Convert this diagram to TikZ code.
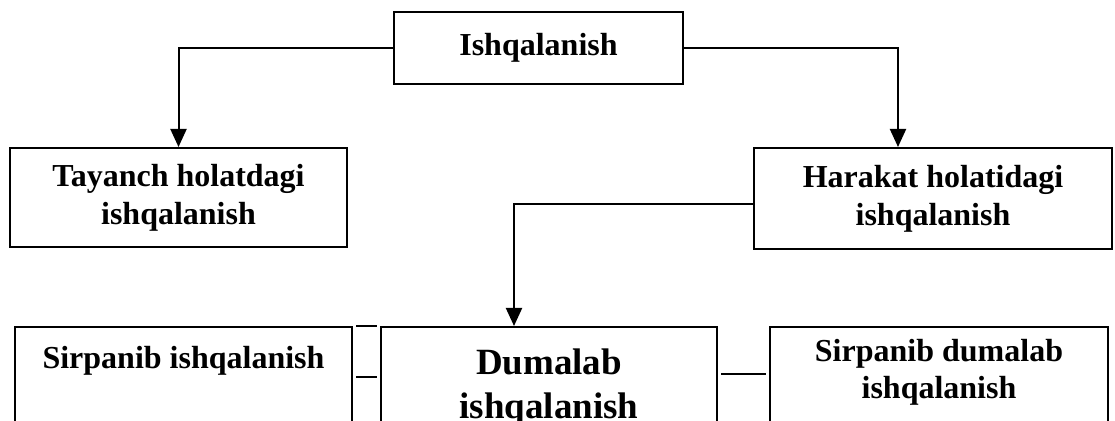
\documentclass[tikz,border=0pt]{standalone}
\usepackage{fontspec}
\setmainfont{Liberation Serif}
\usetikzlibrary{arrows.meta,positioning,calc}

\begin{document}
\begin{tikzpicture}[x=0.5pt,y=-0.5pt,every node/.style={font=\bfseries\fontsize{16}{19}\selectfont,align=center},box/.style={draw,line width=1pt,inner sep=0pt},boxtext/.style={inner sep=0pt,anchor=base},arrow/.style={-{Triangle[width=8pt,length=9pt]},line width=1pt},link/.style={line width=1pt}]
\useasboundingbox (0,0) rectangle (1115,421);
\clip (0,0) rectangle (1115,421);
\node[box,minimum width=144.5pt,minimum height=36pt] (ishq) at (538.5,48) {Ishqalanish};
\node[box,minimum width=168.5pt,minimum height=49.5pt] (tayanch) at (178.5,197.5) {Tayanch holatdagi\\ishqalanish};
\node[box,minimum width=179pt,minimum height=50.5pt] (harakat) at (933,198.5) {Harakat holatidagi\\ishqalanish};
\node[box,minimum width=168.5pt,minimum height=70pt] (sirp) at (183.5,397) {};
\node[box,minimum width=168pt,minimum height=70pt] (dumalab) at (549,397) {};
\node[box,minimum width=169pt,minimum height=70pt] (sirpdum) at (939,397) {};
\node[boxtext] (sirptxt) at ($(sirp.north)+(0,43)$) {Sirpanib ishqalanish};
\node[boxtext,font=\bfseries\fontsize{18.5}{22}\selectfont] (dumtxt) at ($(dumalab.north)+(0,93)$) {Dumalab\\ishqalanish};
\node[boxtext,font=\bfseries\fontsize{16}{18.5}\selectfont] (sirpdumtxt) at ($(sirpdum.north)+(0,73)$) {Sirpanib dumalab\\ishqalanish};
\draw[arrow] (ishq.west) -| (tayanch.north);
\draw[arrow] (ishq.east) -| ($(harakat.north)+(-35,0)$);
\draw[arrow] ($(harakat.west)+(0,6)$) -| ($(dumalab.north)+(-35,0)$);
\draw[link] ($(sirp.north east)+(3,0)$) -- ($(dumalab.north west)+(-3,0)$);
\draw[link] ($(sirp.north east)+(3,51)$) -- ($(dumalab.north west)+(-3,51)$);
\draw[link] ($(dumalab.north east)+(3,48)$) -- ($(sirpdum.north west)+(-3,48)$);
\end{tikzpicture}
\end{document}
